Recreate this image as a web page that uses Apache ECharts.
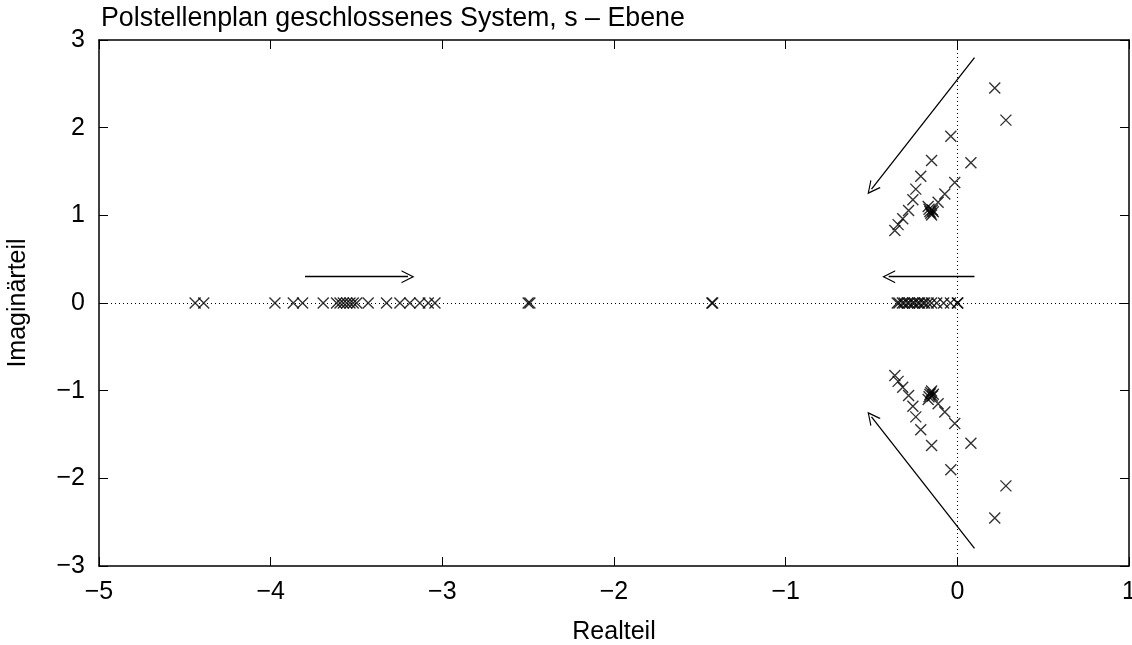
<!DOCTYPE html>
<html>
<head>
<meta charset="utf-8">
<script src="https://cdn.jsdelivr.net/npm/echarts@6/dist/echarts.min.js"></script>
<style>
  html, body { margin: 0; padding: 0; background: #fff; }
  #chart1 { width: 1132px; height: 645px; }
</style>
</head>
<body>
<div id="chart1"></div>
<script>
// Polstellen: Realteil / Imaginärteil
var upperRe = [0.218, 0.283, -0.038, 0.079, -0.150, -0.213, -0.242, -0.259, -0.284, -0.318, -0.345, -0.364,
               -0.015, -0.073, -0.112, -0.170, -0.165, -0.160, -0.155, -0.150, -0.145, -0.140];
var upperIm = [2.452, 2.086, 1.901, 1.599, 1.626, 1.445, 1.299, 1.179, 1.055, 0.960, 0.894, 0.827,
               1.375, 1.242, 1.150, 1.100, 1.070, 1.045, 1.025, 1.005, 1.060, 1.040];
var lowerRe = [0.218, 0.283, -0.038, 0.079, -0.150, -0.213, -0.242, -0.259, -0.284, -0.318, -0.345, -0.364,
               -0.015, -0.073, -0.112, -0.170, -0.165, -0.160, -0.155, -0.150, -0.145, -0.140];
var lowerIm = [-2.452, -2.086, -1.901, -1.599, -1.626, -1.445, -1.299, -1.179, -1.055, -0.960, -0.894, -0.827,
               -1.375, -1.242, -1.150, -1.100, -1.070, -1.045, -1.025, -1.005, -1.060, -1.040];
var realPoles = [-4.44, -4.39, -3.975, -3.868, -3.814, -3.694, -3.616, -3.596, -3.577, -3.557, -3.538,
                 -3.519, -3.499, -3.432, -3.325, -3.247, -3.189, -3.131, -3.082, -3.043,
                 -2.5, -2.49, -1.43, -1.425,
                 -0.35, -0.34, -0.32, -0.31, -0.29, -0.28, -0.26, -0.25, -0.23, -0.22, -0.20,
                 -0.19, -0.17, -0.15, -0.12, -0.08, -0.04, 0, 0.003];
// Pfeile: [x0, y0, x1, y1]
var arrows = [
    [0.1, 2.8, -0.5, 1.3],
    [0.1, 0.3, -0.4, 0.3],
    [-3.8, 0.3, -3.2, 0.3],
    [0.1, -2.8, -0.5, -1.3]
];
var xTicks = [-5, -4, -3, -2, -1, 0, 1];
var yTicks = [-3, -2, -1, 0, 1, 2, 3];

_initChart();

function _initChart () {
    var myChart = echarts.init(document.getElementById('chart1'));
    var font = 'Liberation Sans, Arial, Helvetica, sans-serif';
    var minus = function (v) { return String(v).replace('-', '\u2212'); };

    var poles = [];
    for (var i = 0; i < upperRe.length; i++) poles.push([upperRe[i], upperIm[i]]);
    for (var j = 0; j < lowerRe.length; j++) poles.push([lowerRe[j], lowerIm[j]]);
    for (var k = 0; k < realPoles.length; k++) poles.push([realPoles[k], 0]);

    var arrowData = arrows.map(function (a) {
        return { coords: [[a[0], a[1]], [a[2], a[3]]] };
    });

    var axisCommon = {
        type: 'value',
        axisLine: { show: true, onZero: false, lineStyle: { color: '#000', width: 1.5 } },
        axisTick: { show: true, inside: true, length: 9, lineStyle: { color: '#000', width: 1 } },
        splitLine: { show: false }
    };

    var option = {
        animation: false,
        backgroundColor: '#fff',
        title: {
            text: 'Polstellenplan geschlossenes System, s \u2013 Ebene',
            left: 101,
            top: 5,
            padding: 0,
            textStyle: { fontFamily: font, fontSize: 26.8, fontWeight: 'normal', color: '#000' }
        },
        grid: { left: 99, right: 3, top: 40, bottom: 79, containLabel: false, outerBoundsMode: 'none' },
        xAxis: [
            Object.assign({}, axisCommon, {
                position: 'bottom',
                min: xTicks[0], max: xTicks[xTicks.length - 1], interval: 1,
                name: 'Realteil',
                nameLocation: 'middle',
                nameGap: 54,
                nameTextStyle: { fontFamily: font, fontSize: 25, color: '#000' },
                axisLabel: { margin: 14, fontFamily: font, fontSize: 25, color: '#000', formatter: minus }
            }),
            Object.assign({}, axisCommon, {
                position: 'top',
                min: xTicks[0], max: xTicks[xTicks.length - 1], interval: 1,
                axisLabel: { show: false }
            })
        ],
        yAxis: [
            Object.assign({}, axisCommon, {
                position: 'left',
                min: yTicks[0], max: yTicks[yTicks.length - 1], interval: 1,
                name: 'Imagin\u00e4rteil',
                nameLocation: 'middle',
                nameGap: 68,
                nameRotate: 90,
                nameTextStyle: { fontFamily: font, fontSize: 25, color: '#000' },
                axisLabel: { margin: 14, fontFamily: font, fontSize: 25, color: '#000', formatter: minus }
            }),
            Object.assign({}, axisCommon, {
                position: 'right',
                min: yTicks[0], max: yTicks[yTicks.length - 1], interval: 1,
                axisLabel: { show: false }
            })
        ],
        series: [
            {
                type: 'scatter',
                xAxisIndex: 0,
                yAxisIndex: 0,
                symbol: 'path://M0,0L10,10M10,0L0,10',
                symbolSize: 11,
                itemStyle: { color: 'transparent', borderColor: '#000', borderWidth: 1.4 },
                data: poles,
                z: 5,
                markLine: {
                    silent: true,
                    symbol: ['none', 'none'],
                    label: { show: false },
                    lineStyle: { color: '#000', type: [1, 3], width: 1 },
                    data: [{ xAxis: 0 }, { yAxis: 0 }],
                    z: 1
                }
            },
            {
                type: 'lines',
                coordinateSystem: 'cartesian2d',
                xAxisIndex: 0,
                yAxisIndex: 0,
                symbol: ['none', 'path://M0,12L6,0L12,12L10.8,12L6,2.4L1.2,12Z'],
                symbolSize: [11, 13],
                lineStyle: { color: '#000', width: 1.3, opacity: 1 },
                data: arrowData,
                z: 4
            }
        ]
    };
    myChart.setOption(option);
    window.onresize = myChart.resize;
}
</script>
</body>
</html>
